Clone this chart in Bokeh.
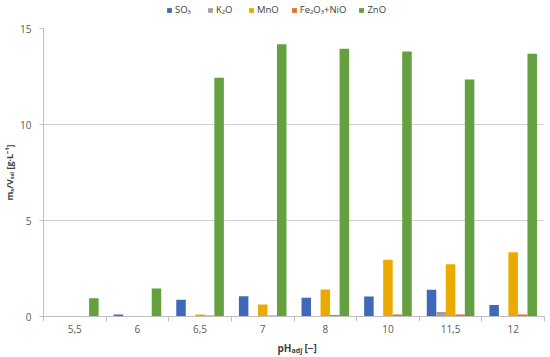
import numpy as np
from bokeh.plotting import figure
from bokeh.layouts import column
from bokeh.models import (Legend, LegendItem, FixedTicker, Label, Range1d)
from bokeh.embed import file_html
from bokeh.resources import INLINE

categories = ["5,5", "6", "6,5", "7", "8", "10", "11,5", "12"]
series_names = ["SO₃", "K₂O", "MnO", "Fe₂O₃+NiO", "ZnO"]
so3 = [0.03, 0.10, 0.87, 1.05, 0.98, 1.04, 1.39, 0.60]
k2o = [0.01, 0.01, 0.02, 0.02, 0.03, 0.03, 0.23, 0.03]
mno = [0.02, 0.02, 0.10, 0.63, 1.41, 2.96, 2.72, 3.35]
fe_ni = [0.03, 0.03, 0.05, 0.05, 0.08, 0.10, 0.10, 0.10]
zno = [0.95, 1.46, 12.43, 14.18, 13.95, 13.80, 12.34, 13.68]
y_ticks = [0, 5, 10, 15]

colors = ["#3F69B8", "#A0A0A0", "#EAAA00", "#E0702A", "#64A03F"]
series = [so3, k2o, mno, fe_ni, zno]

FONT = "Open Sans"
W = 550

# ---- legend strip on top ----
top = figure(width=W, height=22, x_range=Range1d(0, 1), y_range=Range1d(0, 1),
             output_backend="svg", toolbar_location=None,
             min_border=0, x_axis_location=None, y_axis_location=None)
top.outline_line_color = None
top.grid.visible = False
leg_rs = [top.vbar(x=[0], top=[0], width=0, color=c, line_color=None) for c in colors]
legend = Legend(items=[LegendItem(label=n, renderers=[r]) for n, r in zip(series_names, leg_rs)],
                orientation="horizontal", location=(123, 6),
                glyph_width=6, glyph_height=6, label_text_font_size="9.5px",
                label_text_font=FONT, label_text_color="#404040",
                spacing=12, padding=0, margin=0, border_line_color=None,
                background_fill_alpha=0, label_standoff=3, label_height=12)
top.add_layout(legend, "center")

# ---- main chart ----
p = figure(width=W, height=318, x_range=Range1d(0, len(categories)),
           y_range=Range1d(0, 15), output_backend="svg", toolbar_location=None,
           min_border_left=39, min_border_right=6, min_border_top=6,
           min_border_bottom=24)
p.outline_line_color = None

bw = 0.152
centers = np.arange(len(categories)) + 0.5
for k, (vals, col) in enumerate(zip(series, colors)):
    p.vbar(x=centers + (k - 2) * bw, top=vals, width=bw, color=col, line_color=None)

xa = p.xaxis[0]
xa.ticker = FixedTicker(ticks=list(centers), minor_ticks=list(np.arange(len(categories) + 1)))
xa.major_label_overrides = {float(c): lab for c, lab in zip(centers, categories)}
xa.major_tick_line_color = None
xa.major_tick_out = 5
xa.minor_tick_line_color = "#BFBFBF"
xa.minor_tick_out = 5
xa.minor_tick_in = 0
xa.axis_line_color = "#BFBFBF"
xa.major_label_text_font = FONT
xa.major_label_text_font_size = "10px"
xa.major_label_text_color = "#595959"
xa.major_label_standoff = 3

ya = p.yaxis[0]
ya.ticker = FixedTicker(ticks=y_ticks)
ya.minor_tick_line_color = None
ya.major_tick_line_color = "#BFBFBF"
ya.major_tick_out = 4
ya.major_tick_in = 0
ya.axis_line_color = "#BFBFBF"
ya.major_label_text_font = FONT
ya.major_label_text_font_size = "10px"
ya.major_label_text_color = "#595959"
ya.major_label_standoff = 8
ya.axis_label = "mₛ/Vₛₒₗ [g·L⁻¹]"
ya.axis_label_text_font = FONT
ya.axis_label_text_font_size = "9px"
ya.axis_label_text_font_style = "bold"
ya.axis_label_text_color = "#404040"
ya.axis_label_standoff = 1

p.xgrid.grid_line_color = None
p.ygrid.grid_line_color = "#D0D0D0"

# ---- x-axis title strip with subscript ----
bot = figure(width=W, height=17, x_range=Range1d(0, 1), y_range=Range1d(0, 1),
             output_backend="svg", toolbar_location=None,
             min_border=0, x_axis_location=None, y_axis_location=None)
bot.outline_line_color = None
bot.grid.visible = False
lab_kw = dict(x_units="screen", y_units="screen", text_font=FONT,
              text_font_style="bold", text_color="#404040", text_baseline="middle")
bot.add_layout(Label(x=234, y=10, text="pH", text_font_size="10px", **lab_kw))
bot.add_layout(Label(x=248, y=7, text="adj", text_font_size="7px", **lab_kw))
bot.add_layout(Label(x=261, y=10, text="[−]", text_font_size="10px", **lab_kw))

layout = column(top, p, bot, spacing=0)
open("out.html", "w").write(file_html(layout, INLINE))
